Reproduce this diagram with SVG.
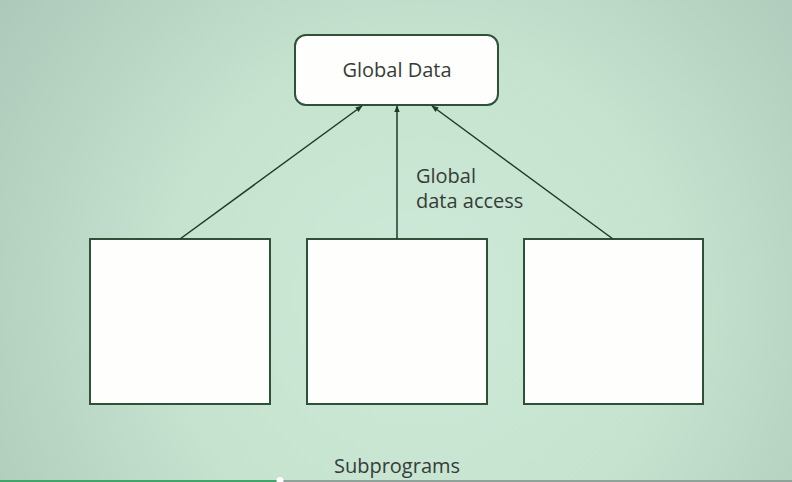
<svg xmlns="http://www.w3.org/2000/svg" width="792" height="482" viewBox="0 0 792 482">
<defs>
<radialGradient id="bg" cx="420" cy="300" r="560" gradientUnits="userSpaceOnUse">
<stop offset="0" stop-color="#cde9d7"/>
<stop offset="0.45" stop-color="#c6e3d0"/>
<stop offset="1" stop-color="#a7c4b5"/>
</radialGradient>
<marker id="ah" viewBox="0 0 10 10" refX="9" refY="5" markerWidth="7" markerHeight="7" orient="auto" markerUnits="userSpaceOnUse">
<path d="M0,1 L10,5 L0,9 z" fill="#1f3a28"/>
</marker>
<style>
.box{fill:#fefefc;stroke:#2f5138;stroke-width:2}
.lbl{font-family:"Open Sans","Liberation Sans",sans-serif;font-size:20px;fill:#363d38}
.con{stroke:#1f3a28;stroke-width:1.5;fill:none}
</style>
</defs>
<rect width="792" height="482" fill="url(#bg)"/>
<g id="global-data">
<rect class="box" x="295" y="35" width="203" height="70" rx="11"/>
<text class="lbl" x="397" y="77" text-anchor="middle">Global Data</text>
</g>
<g id="subprogram-1"><rect class="box" x="90" y="239" width="180" height="165"/></g>
<g id="subprogram-2"><rect class="box" x="307" y="239" width="180" height="165"/></g>
<g id="subprogram-3"><rect class="box" x="524" y="239" width="179" height="165"/></g>
<g id="connectors">
<line class="con" x1="180" y1="239" x2="362" y2="106" marker-end="url(#ah)"/>
<line class="con" x1="397" y1="239" x2="397" y2="106" marker-end="url(#ah)"/>
<line class="con" x1="613" y1="239" x2="432" y2="106" marker-end="url(#ah)"/>
</g>
<g id="labels">
<text class="lbl" x="416" y="183">Global</text>
<text class="lbl" x="416" y="208">data access</text>
<text class="lbl" x="397" y="473" text-anchor="middle">Subprograms</text>
</g>
<g id="progress">
<line x1="0" y1="481" x2="280" y2="481" stroke="#3fa56a" stroke-width="2"/>
<line x1="280" y1="481" x2="792" y2="481" stroke="#8fa39a" stroke-width="2"/>
<circle cx="280" cy="480.5" r="3.5" fill="#ffffff"/>
</g>
</svg>
